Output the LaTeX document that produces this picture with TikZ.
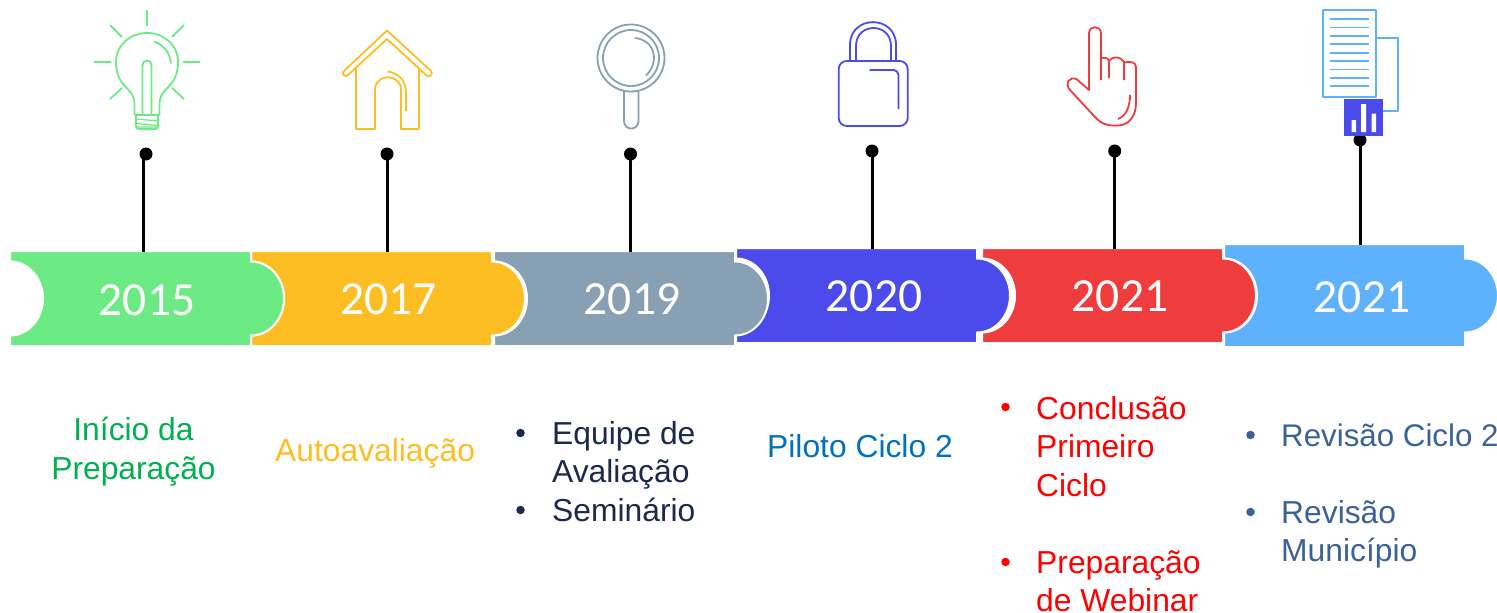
\documentclass[tikz,border=0pt]{standalone}
\usepackage{fontspec}
\setmainfont{Liberation Sans}
\newfontfamily\yearfont{Carlito}
\definecolor{cGreen}{HTML}{6CEA83}
\definecolor{cAmber}{HTML}{FDBE23}
\definecolor{cGrey}{HTML}{88A0B4}
\definecolor{cIndigo}{HTML}{4B4BEB}
\definecolor{cRed}{HTML}{EF3C3C}
\definecolor{cBlue}{HTML}{5EB1FC}
\definecolor{tGreen}{HTML}{00B050}
\definecolor{tNavy}{HTML}{1B2A4A}
\definecolor{tBlue}{HTML}{0070C0}
\definecolor{tRed}{HTML}{FF0000}
\definecolor{tSlate}{HTML}{3A6296}
% \seg{left}{top}{bottom}{colour}; the white outline eats 1 unit on each side
\newcommand{\seg}[4]{%
  \pgfmathsetmacro{\cy}{(#2+#3)/2}%
  \pgfmathsetmacro{\ya}{\cy-37}\pgfmathsetmacro{\yb}{\cy+37}%
  \pgfmathsetmacro{\yc}{\cy-20.4}\pgfmathsetmacro{\yd}{\cy+20.4}%
  \pgfmathsetmacro{\xr}{#1+240}\pgfmathsetmacro{\xs}{\xr+18.2}\pgfmathsetmacro{\xt}{\xr+33}%
  \pgfmathsetmacro{\xn}{#1+17.2}\pgfmathsetmacro{\xo}{#1+32}%
  \pgfmathsetmacro{\xl}{#1-1}\pgfmathsetmacro{\yt}{#2-1}\pgfmathsetmacro{\yu}{#3+1}%
  \fill[#4,draw=white,line width=2pt]
    (\xl,\yt) -- (\xr,\yt) -- (\xr,\ya)
    .. controls (\xs,\ya) and (\xt,\yc) .. (\xt,\cy)
    .. controls (\xt,\yd) and (\xs,\yb) .. (\xr,\yb)
    -- (\xr,\yu) -- (\xl,\yu) -- (\xl,\yb)
    .. controls (\xn,\yb) and (\xo,\yd) .. (\xo,\cy)
    .. controls (\xo,\yc) and (\xn,\ya) .. (\xl,\ya) -- cycle;}
\tikzset{
  x=1pt,y=-1pt,
  year/.style={text=white,inner sep=0pt,font=\yearfont\fontsize{47.5}{47.5}\selectfont},
  pin/.style={circle,fill=black,minimum size=13pt,inner sep=0pt},
  stem/.style={line width=2.6pt,black},
  label/.style={inner sep=0pt,anchor=north west,align=left,font=\fontsize{31.8}{38.5}\selectfont},
  clabel/.style={inner sep=0pt,anchor=north,align=center,font=\fontsize{31.8}{38.5}\selectfont},
  dotmark/.style={circle,minimum size=8.5pt,inner sep=0pt},
  icon/.style={line width=1.8pt,fill=none,line join=round},
}
\begin{document}
\begin{tikzpicture}
\useasboundingbox (0,0) rectangle (1497,613);
% bar segments, right to left so each tab lies over the next segment
\seg{1225}{245}{346}{cBlue}
\seg{983}{249}{342}{cRed}
\seg{737}{249}{342}{cIndigo}
\seg{495}{252}{345}{cGrey}
\seg{252}{252}{345}{cAmber}
\seg{11}{252}{345}{cGreen}
\node[year] (y1) at (147,300) {2015};
\node[year] (y2) at (388.5,299) {2017};
\node[year] (y3) at (632,299) {2019};
\node[year] (y4) at (874,296) {2020};
\node[year] (y5) at (1120,296) {2021};
\node[year] (y6) at (1362,297) {2021};
% pins
\coordinate (b1) at (143.7,252);
\coordinate (b2) at (387.3,252);
\coordinate (b3) at (630.3,252);
\coordinate (b4) at (872.3,249);
\coordinate (b5) at (1114.7,249);
\coordinate (b6) at (1360.3,245);
\node[pin] (p1) at (146,154) {};
\node[pin] (p2) at (387,154) {};
\node[pin] (p3) at (630.5,154) {};
\node[pin] (p4) at (872,151) {};
\node[pin] (p5) at (1114.7,151) {};
\node[pin] (p6) at (1360,140) {};
\foreach \i in {1,...,6} \draw[stem] (b\i |- p\i) -- (b\i);
% bulb
\begin{scope}[icon,draw=cGreen]
\draw (147,10) -- (147,26) (94,62) -- (111,62) (183,62) -- (200,62)
  (110,25) -- (122,37) (184,25) -- (172,37) (122,88) -- (110,99) (172,88) -- (184,99);
\draw (134.5,115) -- (134.5,104) .. controls (134.5,94) and (128,90) .. (124,85)
  .. controls (119,80) and (116,72) .. (116,62)
  .. controls (116,45) and (130,33) .. (147,33)
  .. controls (164,33) and (178,45) .. (178,62)
  .. controls (178,72) and (175,80) .. (170,85)
  .. controls (166,90) and (159.5,94) .. (159.5,104) -- (159.5,115);
\draw (154,41.5) .. controls (164,45) and (170,53) .. (171,63.5);
\draw (142.5,115) -- (142.5,65) .. controls (142.5,59) and (151.5,59) .. (151.5,65) -- (151.5,115);
\draw (134.5,115) -- (159.5,115) (136,115) -- (136,126) .. controls (136,128) and (137,129) .. (139,129)
  -- (155,129) .. controls (157,129) and (158,128) .. (158,126) -- (158,115);
\draw[line width=1.2pt] (136,119) -- (158,121) (136,123.5) -- (158,125.5) (136,127) -- (158,127);
\end{scope}
% house
\begin{scope}[icon,draw=cAmber]
\draw (387,30.5) -- (431,71) .. controls (434,75) and (429,78) .. (426,75) -- (387,39)
  -- (348,75) .. controls (345,78) and (341,74) .. (344,71) -- cycle;
\draw (356,68) -- (356,129) -- (375,129) -- (375,90)
  .. controls (375,73) and (401,73) .. (401,90) -- (401,129) -- (419,129) -- (419,68);
\draw (387.5,71.5) .. controls (398,73) and (406,80) .. (406,92) -- (406,111);
\end{scope}
% magnifier
\begin{scope}[icon,draw=cGrey]
\draw (631,58) circle[radius=33.5];
\draw (631,58) circle[radius=28];
\draw (635,38) .. controls (655,40) and (660,62) .. (646,75.5);
\draw (624,91) -- (624,121) .. controls (624,131) and (638.5,131) .. (638.5,121) -- (638.5,91);
\end{scope}
% padlock
\begin{scope}[icon,draw=cIndigo]
\draw[rounded corners=8pt] (838.7,61) rectangle (907.7,126);
\draw (850,61) -- (850,45) .. controls (850,14.5) and (896,14.5) .. (896,45) -- (896,61);
\draw (856,61) -- (856,46) .. controls (856,22) and (891,22) .. (891,46) -- (891,61);
\draw[rounded corners=5pt] (869.5,70) -- (898.5,70) -- (898.5,109);
\end{scope}
% hand
\begin{scope}[icon,draw=cRed]
\draw (1101,80) -- (1101,33.5) .. controls (1101,25) and (1089,25) .. (1089,33.5) -- (1089,90)
  -- (1077,79.5) .. controls (1070,75) and (1064,84) .. (1070,90)
  -- (1095,117) .. controls (1102,125) and (1110,126) .. (1118,125.5)
  .. controls (1130,125) and (1136,115) .. (1136,103) -- (1136,67)
  .. controls (1136,62) and (1130,61) .. (1124,62.5);
\draw (1101,58.5) .. controls (1105,57) and (1109,58) .. (1109,62) -- (1109,78);
\draw (1109,61) .. controls (1112,56) and (1121,56) .. (1124,62) -- (1124,80);
\draw (1130,95) .. controls (1130,107) and (1126,116) .. (1118,119);
\end{scope}
% document
\begin{scope}[icon,draw=cBlue]
\draw (1323,10) rectangle (1376,97);
\foreach \yy in {19,27.4,35.8,44.2,52.6,61,69.4,77.8,86.2}
  \draw (1330,\yy) -- (1368.5,\yy);
\draw (1376,38) -- (1398,38) -- (1398,111) -- (1382,111);
\fill[cIndigo] (1344,98.5) rectangle (1382.5,136);
\fill[white] (1351.5,120) rectangle (1356,132) (1361,104) rectangle (1366,132) (1371.5,113.5) rectangle (1376,132);
\end{scope}
% captions
\node[clabel,text=tGreen] (t1) at (133.5,417) {Início da\\Preparação};
\node[label,text=cAmber] (t2) at (275,438) {Autoavaliação};
\node[dotmark,fill=tNavy] (b31) at (520.5,433) {};
\node[label,text=tNavy] (t31) at (552,421) {Equipe de\\Avaliação};
\node[dotmark,fill=tNavy] (b32) at (520.5,510) {};
\node[label,text=tNavy] (t32) at (552,498) {Seminário};
\node[label,text=tBlue] (t4) at (767,434) {Piloto Ciclo 2};
\node[dotmark,fill=tRed] (b51) at (1005.5,407) {};
\node[label,text=tRed] (t51) at (1036,396) {Conclusão\\Primeiro\\Ciclo};
\node[dotmark,fill=tRed] (b52) at (1005.5,562) {};
\node[label,text=tRed] (t52) at (1036,550) {Preparação\\de Webinar};
\node[dotmark,fill=tSlate] (b61) at (1250.5,435) {};
\node[label,text=tSlate,font=\fontsize{31.3}{38.5}\selectfont] (t61) at (1281,424) {Revisão Ciclo 2};
\node[dotmark,fill=tSlate] (b62) at (1250.5,512) {};
\node[label,text=tSlate] (t62) at (1281,500) {Revisão\\Município};
\end{tikzpicture}
\end{document}
